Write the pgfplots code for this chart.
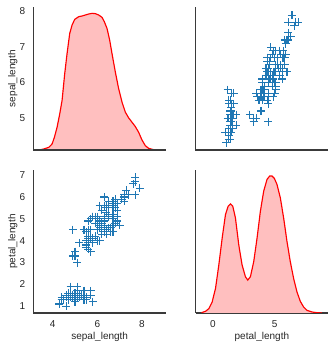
\documentclass[border=0pt]{standalone}
\usepackage{fontspec}
\setmainfont{Liberation Sans}
\usepackage{pgfplots}
\usepackage{pgfplotstable}
\pgfplotsset{compat=1.18}
\definecolor{spine}{HTML}{3A3A3A}
\definecolor{txt}{HTML}{262626}
\definecolor{c0}{HTML}{1F77B4}
\definecolor{kdefill}{HTML}{FFBFBF}

\pgfplotstableread{
sl pl
5.1 1.4
4.9 1.4
4.7 1.3
4.6 1.5
5.0 1.4
5.4 1.7
4.6 1.4
5.0 1.5
4.4 1.4
4.9 1.5
5.4 1.5
4.8 1.6
4.8 1.4
4.3 1.1
5.8 1.2
5.7 1.5
5.4 1.3
5.1 1.4
5.7 1.7
5.1 1.5
5.4 1.7
5.1 1.5
4.6 1.0
5.1 1.7
4.8 1.9
5.0 1.6
5.0 1.6
5.2 1.5
5.2 1.4
4.7 1.6
4.8 1.6
5.4 1.5
5.2 1.5
5.5 1.4
4.9 1.5
5.0 1.2
5.5 1.3
4.9 1.4
4.4 1.3
5.1 1.5
5.0 1.3
4.5 1.3
4.4 1.3
5.0 1.6
5.1 1.9
4.8 1.4
5.1 1.6
4.6 1.4
5.3 1.5
5.0 1.4
7.0 4.7
6.4 4.5
6.9 4.9
5.5 4.0
6.5 4.6
5.7 4.5
6.3 4.7
4.9 3.3
6.6 4.6
5.2 3.9
5.0 3.5
5.9 4.2
6.0 4.0
6.1 4.7
5.6 3.6
6.7 4.4
5.6 4.5
5.8 4.1
6.2 4.5
5.6 3.9
5.9 4.8
6.1 4.0
6.3 4.9
6.1 4.7
6.4 4.3
6.6 4.4
6.8 4.8
6.7 5.0
6.0 4.5
5.7 3.5
5.5 3.8
5.5 3.7
5.8 3.9
6.0 5.1
5.4 4.5
6.0 4.5
6.7 4.7
6.3 4.4
5.6 4.1
5.5 4.0
5.5 4.4
6.1 4.6
5.8 4.0
5.0 3.3
5.6 4.2
5.7 4.2
5.7 4.2
6.2 4.3
5.1 3.0
5.7 4.1
6.3 6.0
5.8 5.1
7.1 5.9
6.3 5.6
6.5 5.8
7.6 6.6
4.9 4.5
7.3 6.3
6.7 5.8
7.2 6.1
6.5 5.1
6.4 5.3
6.8 5.5
5.7 5.0
5.8 5.1
6.4 5.3
6.5 5.5
7.7 6.7
7.7 6.9
6.0 5.0
6.9 5.7
5.6 4.9
7.7 6.7
6.3 4.9
6.7 5.7
7.2 6.0
6.2 4.8
6.1 4.9
6.4 5.6
7.2 5.8
7.4 6.1
7.9 6.4
6.4 5.6
6.3 5.1
6.1 5.6
7.7 6.1
6.3 5.6
6.4 5.5
6.0 4.8
6.9 5.4
6.7 5.6
6.9 5.1
5.8 5.1
6.8 5.9
6.7 5.7
6.7 5.2
6.3 5.0
6.5 5.2
6.2 5.4
5.9 5.1
}\iris

\pgfplotstableread{
x h
3.375 0
3.599 3
3.822 8
3.972 18
4.076 38
4.196 68
4.315 108
4.419 148
4.538 228
4.643 288
4.762 348
4.867 373
4.986 390
5.165 398
5.314 400
5.463 403
5.612 406
5.762 408
5.911 407
6.060 403
6.209 396
6.313 383
6.433 363
6.552 328
6.656 288
6.805 233
6.954 183
7.104 143
7.253 113
7.402 96
7.551 83
7.700 70
7.849 53
7.999 30
8.148 13
8.297 5
8.520 1
8.819 0
}\kdesl

\pgfplotstableread{
x h
-0.911 1
-0.589 5
-0.320 13
-0.051 33
0.218 73
0.486 143
0.756 223
1.024 293
1.239 318
1.427 325
1.615 318
1.831 283
2.099 203
2.368 143
2.637 108
2.825 98
3.040 108
3.309 153
3.578 223
3.847 303
4.115 363
4.385 398
4.599 408
4.788 408
4.976 401
5.191 383
5.460 343
5.728 283
5.998 213
6.266 153
6.535 103
6.804 63
7.073 35
7.341 18
7.610 8
8.014 3
8.417 1
8.820 0
}\kdepl

\pgfplotsset{
  base/.style={
    scale only axis, width=132.8pt, height=142.7pt,
    anchor=south west,
    font=\fontsize{10}{12}\selectfont,
    /pgf/number format/assume math mode=true,
    tick label style={font=\fontsize{10}{12}\selectfont, text=txt},
    label style={font=\fontsize{10}{12}\selectfont, text=txt},
    axis x line*=bottom, axis y line*=left,
    axis line style={draw=spine, line width=1.2pt, -},
    major tick length=0pt,
    xticklabel shift=4pt, yticklabel shift=4.5pt,
    xlabel style={at={(axis description cs:0.5,-0.168)}, anchor=center},
    ylabel style={at={(axis description cs:-0.155,0.5)}, anchor=center},
  },
  sc/.style={only marks, mark=+, mark size=4pt, color=c0, mark options={line width=1.1pt}},
}

\begin{document}
\begin{tikzpicture}
\useasboundingbox (0,0) rectangle (334pt,349pt);
% top-left: KDE of sepal_length
\begin{axis}[base, at={(33.3pt,199pt)}, xmin=3.13, xmax=9.08, ymin=0, ymax=426, axis lines=none]
\addplot[draw=none, fill=kdefill] table[x=x,y=h] {\kdesl} \closedcycle;
\addplot[red, line width=1.15pt] table[x=x,y=h] {\kdesl};
\end{axis}
\begin{axis}[base, at={(33.3pt,199pt)}, xmin=3.13, xmax=9.08, ymin=4.1, ymax=8.12,
  xtick={4,6,8}, xticklabels={}, ytick={5,6,7,8}, ylabel={sepal\_length}]
\end{axis}
% top-right: sepal vs petal
\begin{axis}[base, at={(195.5pt,199pt)}, xmin=-1.40, xmax=9.34, ymin=4.1, ymax=8.12,
  xtick={0,5}, xticklabels={}, ytick={5,6,7,8}, yticklabels={}]
\addplot[sc] table[x=pl,y=sl] {\iris};
\end{axis}
% bottom-left: petal vs sepal
\begin{axis}[base, at={(33.3pt,36pt)}, xmin=3.13, xmax=9.08, ymin=0.69, ymax=7.22,
  xtick={4,6,8}, ytick={1,2,3,4,5,6,7}, xlabel={sepal\_length}, ylabel={petal\_length}]
\addplot[sc] table[x=sl,y=pl] {\iris};
\end{axis}
% bottom-right: KDE of petal_length
\begin{axis}[base, at={(195.5pt,36pt)}, xmin=-1.40, xmax=9.34, ymin=0, ymax=425,
  xtick={0,5}, ytick=\empty, xlabel={petal\_length}]
\addplot[draw=none, fill=kdefill] table[x=x,y=h] {\kdepl} \closedcycle;
\addplot[red, line width=1.15pt] table[x=x,y=h] {\kdepl};
\end{axis}
\end{tikzpicture}
\end{document}
